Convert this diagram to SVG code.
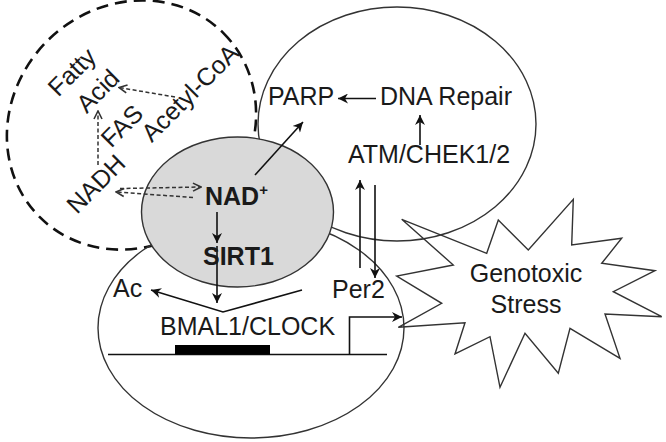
<svg xmlns="http://www.w3.org/2000/svg" width="666" height="442" viewBox="0 0 666 442">
  <defs>
    <style>
      .t { font-family: "Liberation Sans", Arial, sans-serif; font-size: 25px; fill: #1a1a1a; }
      .b { font-weight: bold; }
      .outline { fill: none; stroke: #333; stroke-width: 1.4; }
      .arr { fill: none; stroke: #111; stroke-width: 1.6; marker-end: url(#ah); }
      .darr { fill: none; stroke: #333; stroke-width: 1.5; stroke-dasharray: 4 2.5; marker-end: url(#dh); }
    </style>
    <marker id="ah" viewBox="0 0 10 10" refX="10" refY="5" markerWidth="11" markerHeight="10" markerUnits="userSpaceOnUse" orient="auto">
      <path d="M0,0 L10,5 L0,10 L3,5 z" fill="#111"/>
    </marker>
    <marker id="dh" viewBox="0 0 10 10" refX="9" refY="5" markerWidth="10" markerHeight="10" markerUnits="userSpaceOnUse" orient="auto">
      <path d="M1,1 L9,5 L1,9" fill="none" stroke="#333" stroke-width="1.6"/>
    </marker>
  </defs>
  <rect x="0" y="0" width="666" height="442" fill="#fff"/>

  <g id="stress">
    <polygon class="outline" points="401.7,219.3 486.7,253.3 498.3,220 528.3,250 573.3,199.3 571.7,245 621.7,238.3 601.7,263.3 655,270.7 613.3,291.7 661.7,316.7 605,314 620,358.3 570,328.3 558.3,373.3 525,333.3 500,387.3 490,336.7 455,354 465,322.7 398.3,327.3 441.7,303.3 396.7,276 453.3,265"/>
    <text class="t" x="526" y="282" text-anchor="middle">Genotoxic</text>
    <text class="t" x="526" y="313" text-anchor="middle">Stress</text>
  </g>

  <g id="lipid">
    <ellipse cx="131.5" cy="125" rx="130" ry="119" transform="rotate(-45 131.5 125)" fill="none" stroke="#111" stroke-width="2.6" stroke-dasharray="12 7"/>
    <text class="t" x="78" y="78" text-anchor="middle" transform="rotate(-45 78 78)">Fatty</text>
    <text class="t" x="104" y="97" text-anchor="middle" transform="rotate(-45 104 97)">Acid</text>
    <text class="t" x="128" y="132" text-anchor="middle" transform="rotate(-45 128 132)">FAS</text>
    <text class="t" x="196" y="99" text-anchor="middle" transform="rotate(-45 196 99)">Acetyl-CoA</text>
    <text class="t" x="102" y="190" text-anchor="middle" transform="rotate(-45 102 190)">NADH</text>
  </g>

  <g id="dna-repair">
    <ellipse class="outline" cx="397" cy="124" rx="139" ry="117"/>
    <text class="t" x="268" y="105">PARP</text>
    <text class="t" x="380" y="105">DNA Repair</text>
    <text class="t" x="348" y="163">ATM/CHEK1/2</text>
  </g>

  <g id="clock">
    <ellipse class="outline" cx="251" cy="328" rx="153" ry="110"/>
    <line x1="108" y1="354.5" x2="387" y2="354.5" stroke="#111" stroke-width="1.6"/>
    <rect x="175" y="345" width="95" height="9.5" fill="#000"/>
    <text class="t" x="160" y="335">BMAL1/CLOCK</text>
    <text class="t" x="113" y="297">Ac</text>
    <text class="t" x="332" y="298">Per2</text>
  </g>

  <g id="nad">
    <ellipse cx="237.5" cy="212" rx="96" ry="75" fill="#d9d9d9" stroke="#333" stroke-width="1.4"/>
  </g>

  <g id="connectors">
    <line class="darr" x1="175" y1="97" x2="119" y2="87.5"/>
    <line class="darr" x1="98" y1="165" x2="98" y2="111"/>
    <line class="darr" x1="120" y1="188.5" x2="201" y2="187"/>
    <line class="darr" x1="193" y1="197.5" x2="116" y2="192"/>
    <line class="arr" x1="255" y1="175" x2="303" y2="122"/>
    <line class="arr" x1="376" y1="98.5" x2="338" y2="98.5"/>
    <line class="arr" x1="420" y1="145" x2="420" y2="115"/>
    <line class="arr" x1="217" y1="212" x2="217" y2="243"/>
    <line class="arr" x1="217" y1="246" x2="217" y2="303"/>
    <polyline class="arr" points="302,290 223,312 151,290"/>
    <line class="arr" x1="360" y1="268" x2="360" y2="180"/>
    <line class="arr" x1="375" y1="185" x2="375" y2="278"/>
    <polyline class="arr" points="349.5,354.5 349.5,317 402,317"/>
  </g>

  <g id="labels">
    <text class="t b" x="205" y="205" font-size="26">NAD<tspan font-size="15" dy="-10">+</tspan></text>
    <text class="t b" x="203" y="265">SIRT1</text>
  </g>
</svg>
